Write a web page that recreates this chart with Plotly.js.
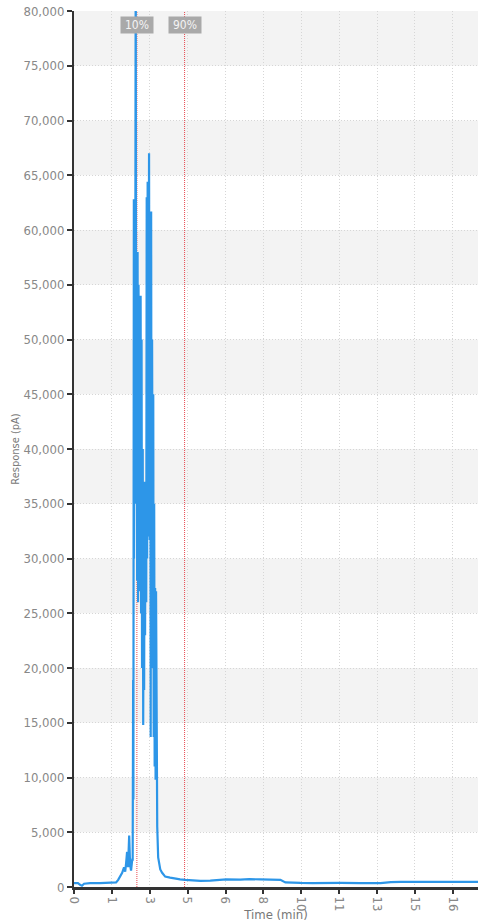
<!DOCTYPE html>
<html>
<head>
<meta charset="utf-8">
<script src="https://cdn.plot.ly/plotly-3.0.1.min.js"></script>
<style>
html,body{margin:0;padding:0;background:#fff;}
#chart{width:485px;height:922px;}
</style>
</head>
<body>
<div id="chart"></div>
<script>
// Time (min)
const timeMin = [
0,0.17,0.26,0.34,0.43,0.69,1.11,1.54,1.80,1.89,1.97,2.06,2.14,2.19,2.23,2.27,2.31,2.34,2.36,2.40,2.44,2.49,2.51,
2.53,2.54,2.56,2.57,2.59,2.61,2.64,2.66,2.68,2.70,2.72,2.74,2.76,2.79,2.81,2.83,2.85,2.87,2.89,2.91,2.94,2.96,2.98,3.00,3.02,3.04,3.06,
3.09,3.11,3.13,3.15,3.17,3.19,3.21,3.24,3.26,3.28,3.30,3.32,3.34,3.36,3.39,3.41,3.43,3.45,3.47,3.49,3.51,3.54,3.56,3.60,3.64,3.69,3.77,
3.90,4.11,4.33,4.54,4.76,4.97,5.40,5.83,6.10,6.26,6.51,7.11,7.50,7.97,8.40,8.83,9.04,9.26,9.69,10.20,10.54,10.75,10.97,11.40,12.26,13.11,13.55,13.67,13.97,14.83,15.69,16.54,17.31];
// Response (pA)
const responsePA = [
350,350,200,120,300,350,360,380,420,650,950,1300,1800,1400,2200,3200,1800,3000,4700,2000,1500,2500,2500,
18900,8000,62800,30000,62000,35000,86000,40000,56000,28000,58000,26000,55000,30000,54000,27000,54000,25000,50000,20000,40000,14800,30000,18000,37000,23000,37000,
26000,63000,30000,64400,32000,62000,67000,31700,60800,13700,61700,20000,50000,32600,45000,13700,35000,11000,27300,9800,27000,9600,5500,2700,2000,1600,1300,
950,850,750,700,650,600,560,580,620,650,700,680,720,690,700,650,420,380,370,360,380,330,380,370,360,360,440,460,460,470,470,470,470];

const xTickVals = [0,1.62,3.24,4.86,6.48,8.10,9.72,11.34,12.96,14.58,16.20];
const xTickText = ['0','1','3','5','6','8','10','11','13','15','16'];
const yTickVals = [0,5000,10000,15000,20000,25000,30000,35000,40000,45000,50000,55000,60000,65000,70000,75000,80000];
const markerTimes = [2.69, 4.73];
const markerLabels = ['10%', '90%'];

const shapes = [];
// alternating bands: 5k-10k, 15k-20k ... 75k-80k
for (let i = 1; i + 1 < yTickVals.length; i += 2) {
  shapes.push({type:'rect', xref:'paper', yref:'y', x0:0, x1:1, y0:yTickVals[i], y1:yTickVals[i+1],
    fillcolor:'#f3f3f3', line:{width:0}, layer:'below'});
}
markerTimes.forEach(t => {
  shapes.push({type:'line', xref:'x', yref:'paper', x0:t, x1:t, y0:0, y1:1,
    line:{color:'#e8484f', width:1, dash:'1px,1px'}, layer:'between'});
});
const font = 'Liberation Sans Narrow, DejaVu Sans Condensed, Arial Narrow, sans-serif';
const annotations = markerTimes.map((t, i) => ({
  x:t, y:1, xref:'x', yref:'paper', yanchor:'top', yshift:-5, showarrow:false,
  text:markerLabels[i], bgcolor:'#a9a9a9', borderpad:1, width:30,
  font:{family:font, size:12, color:'#f4f4f4'}
}));

Plotly.newPlot('chart', [{
  x: timeMin, y: responsePA, type:'scatter', mode:'lines',
  line:{color:'#2d96e8', width:2.2}, hoverinfo:'skip'
}], {
  width:485, height:922,
  margin:{l:74, r:7, t:11, b:35},
  paper_bgcolor:'#fff', plot_bgcolor:'#fff',
  showlegend:false,
  shapes: shapes,
  annotations: annotations,
  xaxis:{
    range:[0,17.28], tickvals:xTickVals, ticktext:xTickText, tickangle:90,
    showgrid:true, gridcolor:'#d6d6d6', griddash:'1px,2px', gridwidth:1,
    showline:true, linecolor:'#333', linewidth:3,
    ticks:'outside', ticklen:4, tickcolor:'#333', tickwidth:2,
    zeroline:false,
    tickfont:{family:font, size:13, color:'#888'},
    title:{text:'Time (min)', font:{family:font, size:13, color:'#777'}, standoff:2}
  },
  yaxis:{
    range:[0,80000], tickvals:yTickVals, tickformat:',d',
    showgrid:true, gridcolor:'#d6d6d6', griddash:'1px,2px', gridwidth:1,
    showline:true, linecolor:'#333', linewidth:2,
    ticks:'outside', ticklen:5, tickcolor:'#333', tickwidth:2,
    zeroline:false,
    tickfont:{family:font, size:13, color:'#888'},
    title:{text:'Response (pA)', font:{family:font, size:11, color:'#777'}, standoff:2}
  }
}, {staticPlot:true});
</script>
</body>
</html>
